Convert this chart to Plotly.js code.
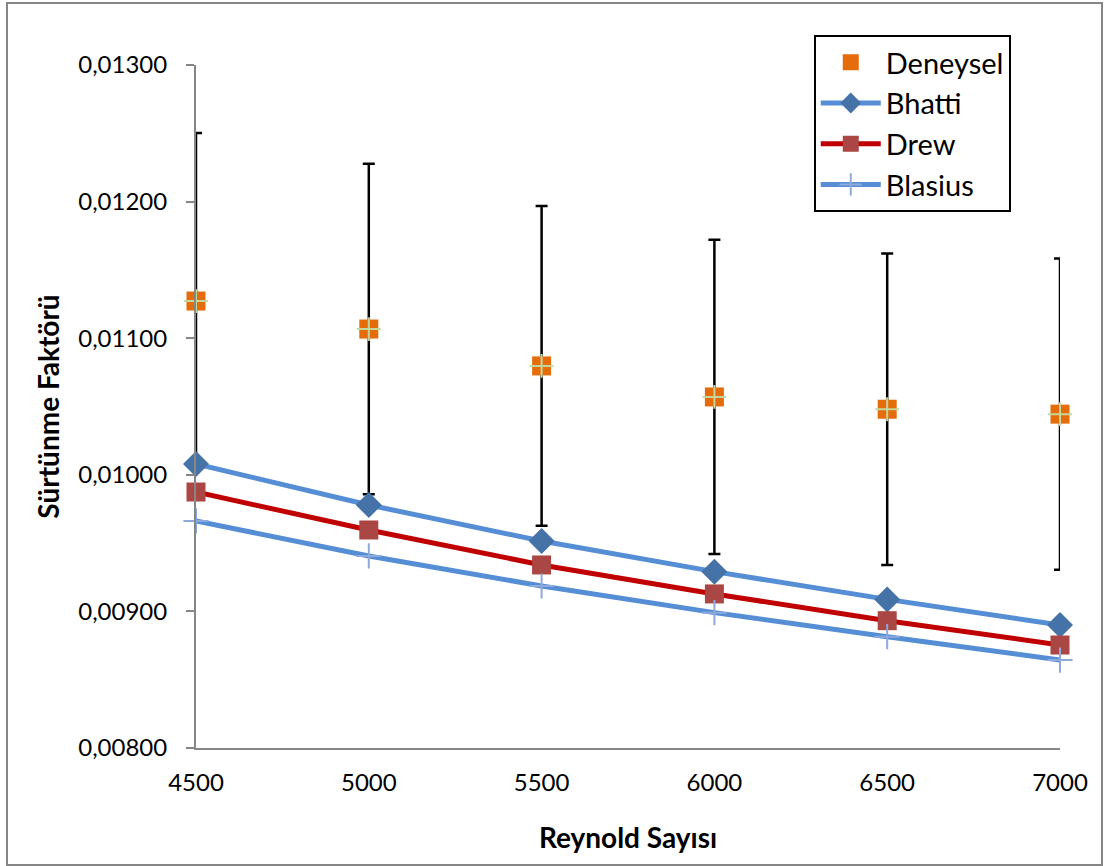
<!DOCTYPE html>
<html>
<head>
<meta charset="utf-8">
<script src="https://cdn.plot.ly/plotly-3.0.1.min.js"></script>
<style>html,body{margin:0;padding:0;background:#fff;}#chart{width:1104px;height:866px;}</style>
</head>
<body>
<div id="chart"></div>
<script>
const reynolds = [4500, 5000, 5500, 6000, 6500, 7000];
const deneysel = [0.011272, 0.011067, 0.010797, 0.010570, 0.010480, 0.010444];
const deneyselErr = [0.00123, 0.00121, 0.00117, 0.00115, 0.00114, 0.00114];
const bhatti = [0.010079, 0.009779, 0.009515, 0.009291, 0.009088, 0.008900];
const drew = [0.009874, 0.009596, 0.009340, 0.009128, 0.008932, 0.008754];
const blasius = [0.009662, 0.009406, 0.009186, 0.008991, 0.008815, 0.008644];
const yTicks = [0.008, 0.009, 0.010, 0.011, 0.012, 0.013];
const xTicks = [4500, 5000, 5500, 6000, 6500, 7000];

const FONT = 'Lato, "Open Sans", sans-serif';

const traces = [
  {
    x: reynolds, y: deneysel, name: 'Deneysel', mode: 'markers', type: 'scatter',
    cliponaxis: false,
    marker: {symbol: 'square', size: 19, color: '#E46C0A', line: {width: 0}},
    error_y: {type: 'data', array: deneyselErr, visible: true, color: '#000000', thickness: 2.5, width: 6}
  },
  {
    x: reynolds, y: bhatti, name: 'Bhatti', mode: 'lines+markers', type: 'scatter',
    cliponaxis: false,
    line: {color: '#558ED5', width: 5},
    marker: {symbol: 'diamond', size: 20, color: '#4572A7', line: {width: 0}}
  },
  {
    x: reynolds, y: drew, name: 'Drew', mode: 'lines+markers', type: 'scatter',
    cliponaxis: false,
    line: {color: '#C00000', width: 5},
    marker: {symbol: 'square', size: 19, color: '#AA4643', line: {width: 0}}
  },
  {
    x: reynolds, y: blasius, name: 'Blasius', mode: 'lines+markers', type: 'scatter',
    cliponaxis: false,
    line: {color: '#558ED5', width: 5},
    marker: {symbol: 'cross-thin', size: 18, color: '#8EA9DB', line: {width: 2, color: '#8EA9DB'}}
  },
  {
    x: reynolds, y: deneysel, name: 'Deneysel', mode: 'markers', type: 'scatter',
    showlegend: false, cliponaxis: false, hoverinfo: 'skip',
    marker: {symbol: 'cross-thin', size: 17, color: '#C3D69B', line: {width: 2, color: '#C3D69B'}}
  }
];

const layout = {
  width: 1104, height: 866,
  margin: {l: 196, r: 44, t: 65, b: 118},
  paper_bgcolor: '#ffffff', plot_bgcolor: '#ffffff',
  separators: ',.',
  font: {family: FONT, size: 24, color: '#000000'},
  showlegend: true,
  legend: {
    x: 0.715, y: 1.044, xanchor: 'left', yanchor: 'top',
    bgcolor: '#ffffff', bordercolor: '#000000', borderwidth: 2,
    font: {family: FONT, size: 29, color: '#000000'},
    tracegroupgap: 0, itemwidth: 60
  },
  xaxis: {
    range: [4500, 7000], tickvals: xTicks, ticktext: xTicks.map(String),
    showgrid: false, zeroline: false,
    showline: true, linecolor: '#868686', linewidth: 2,
    ticks: '', ticklen: 0, ticklabelstandoff: 12,
    tickfont: {family: FONT, size: 24, color: '#000000'},
    title: {text: '<b>Reynold Sayısı</b>', font: {family: FONT, size: 28, color: '#000000'}, standoff: 34}
  },
  yaxis: {
    range: [0.008, 0.013], tickvals: yTicks, tickformat: '.5f',
    showgrid: false, zeroline: false,
    showline: true, linecolor: '#868686', linewidth: 2,
    ticks: 'outside', ticklen: 8, tickcolor: '#868686', tickwidth: 2,
    ticklabelstandoff: 14,
    tickfont: {family: FONT, size: 24, color: '#000000'},
    title: {text: '<b>Sürtünme Faktörü</b>', font: {family: FONT, size: 28, color: '#000000'}, standoff: 10}
  },
  shapes: [
    {type: 'rect', xref: 'paper', yref: 'paper',
     x0: (7 - 196) / 864, x1: (1102 - 196) / 864,
     y0: (748 - 865) / 683, y1: (748 - 3) / 683,
     line: {color: '#868686', width: 2}, fillcolor: 'rgba(0,0,0,0)', layer: 'below'}
  ]
};

Plotly.newPlot('chart', traces, layout, {displayModeBar: false, staticPlot: true});
</script>
</body>
</html>
